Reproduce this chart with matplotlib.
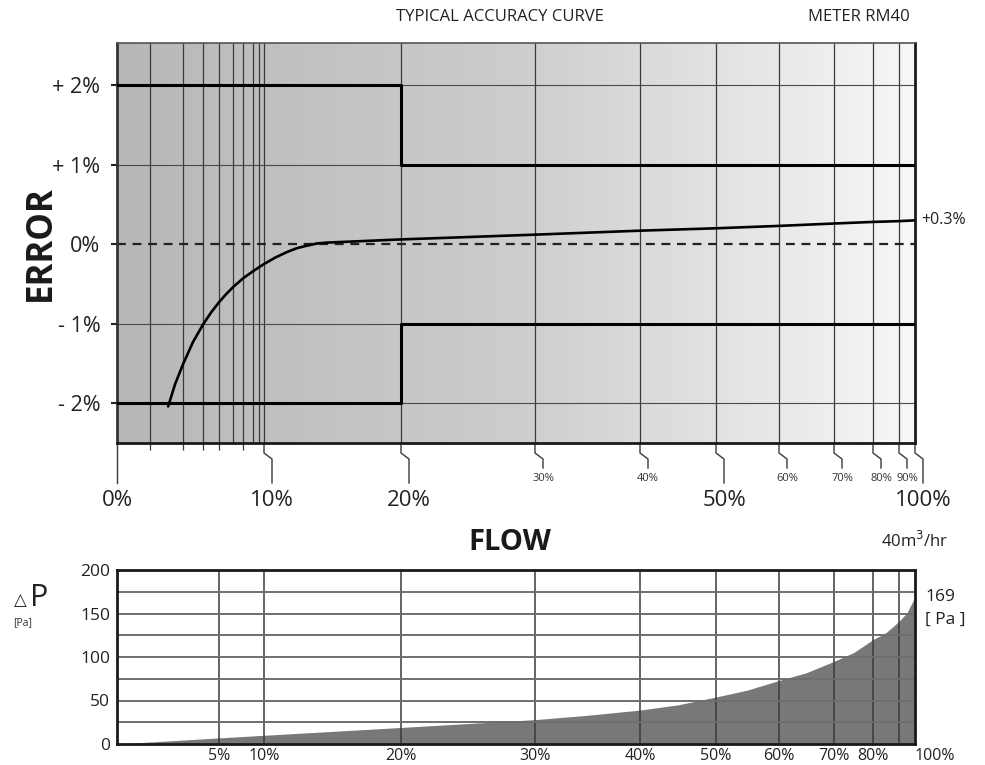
import numpy as np
import matplotlib
matplotlib.use("Agg")
import matplotlib.pyplot as plt
from matplotlib.colors import LinearSegmentedColormap

plt.rcParams["font.family"] = ["Open Sans", "DejaVu Sans"]

# flow axis of the meter sheet is neither linear nor log: piecewise calibration
SCALE_FLOW = [0, 2, 3, 4, 5, 6, 7, 8, 9, 10, 20, 30, 40, 50, 60, 70, 80, 90, 100]
SCALE_POS = [0, 33, 66, 86, 102, 116, 126, 136, 142, 147, 284, 418, 523, 599, 662, 717, 756, 782, 798]

# accuracy curve
ERR_FLOW = [2.55, 2.76, 3.0, 3.5, 4.0, 4.5, 5.0, 5.5, 6.0, 7.0, 8.0, 9.0, 10.0,
            10.8, 11.66, 12.4, 13.1, 13.9, 14.6,
            20, 30, 40, 50, 60, 70, 80, 90, 100]
ERR_VAL = [-2.04, -1.76, -1.51, -1.23, -1.01, -0.86, -0.73, -0.63, -0.54, -0.43,
           -0.34, -0.29, -0.25, -0.17, -0.10, -0.05, -0.02, 0.01, 0.02,
           0.06, 0.12, 0.17, 0.2, 0.23, 0.26, 0.28, 0.29, 0.3]

# tolerance band
LIMIT_FLOW = [0, 20, 20, 100]
LIMIT_UP = [2, 2, 1, 1]
LIMIT_LO = [-2, -2, -1, -1]

ERR_TICKS = [-2, -1, 0, 1, 2]
ERR_LABELS = ["- 2%", "- 1%", "0%", "+ 1%", "+ 2%"]

TOP_GRID = [2, 3, 4, 5, 6, 7, 8, 9, 10, 20, 30, 40, 50, 60, 70, 80, 90]
TOP_MINOR = [2, 3, 4, 5, 7]
TOP_BIG = [10, 20, 50, 100]
TOP_SMALL = [30, 40, 60, 70, 80, 90]

# pressure drop
DP_FLOW = [0, 5, 10, 20, 30, 35, 40, 45, 50, 55, 60, 65, 70, 75, 80, 85, 90, 95, 100]
DP_VAL = [0, 7, 10, 19, 28, 33, 39, 45, 54, 62, 73, 82, 95, 105, 120, 128, 141, 151, 169]
DP_TICKS = [0, 50, 100, 150, 200]
DP_GRID_Y = [25, 50, 75, 100, 125, 150, 175]
BOT_GRID = [5, 10, 20, 30, 40, 50, 60, 70, 80, 90]
BOT_LABELS = [5, 10, 20, 30, 40, 50, 60, 70, 80]

W, H = 985, 765


def fwd(x):
    return np.interp(x, SCALE_FLOW, SCALE_POS)


def inv(p):
    return np.interp(p, SCALE_POS, SCALE_FLOW)


def fx(px):
    return px / W


def fy(py):
    return 1 - py / H


fig = plt.figure(figsize=(W / 100, H / 100), dpi=100)
ax = fig.add_axes([fx(117), fy(443), 798 / W, 400 / H])
ax2 = fig.add_axes([fx(117), fy(744), 798 / W, 174 / H])

# ---- top: accuracy ----
grad = np.linspace(0, 1, 256).reshape(1, -1)
cmap = LinearSegmentedColormap.from_list("bg", ["#b7b7b7", "#cdcdcd", "#f7f7f7"])
ax.imshow(grad, extent=[0, 1, 0, 1], transform=ax.transAxes, aspect="auto",
          cmap=cmap, zorder=0)

ax.set_xscale("function", functions=(fwd, inv))
ax.set_xlim(0, 100)
ax.set_ylim(-2.5, 2.53)

for x in TOP_GRID:
    ax.axvline(x, color="#3a3a3a", lw=0.9, zorder=1)
for y in [-2, -1, 1, 2]:
    ax.axhline(y, color="#4a4a4a", lw=0.8, zorder=1)
ax.axhline(0, color="#222222", lw=1.6, ls=(0, (4, 3)), zorder=2)

ax.plot(LIMIT_FLOW, LIMIT_UP, color="black", lw=2.2, zorder=3)
ax.plot(LIMIT_FLOW, LIMIT_LO, color="black", lw=2.2, zorder=3)
ax.plot(ERR_FLOW, ERR_VAL, color="black", lw=1.9, zorder=4,
        solid_capstyle="round", solid_joinstyle="round")

ax.set_yticks(ERR_TICKS, labels=ERR_LABELS)
ax.tick_params(axis="y", direction="out", length=4, width=1.5, pad=8,
               labelsize=15.5, colors="#222222")
ax.set_xticks(TOP_MINOR, labels=[])
ax.tick_params(axis="x", direction="out", length=5, width=0.9, color="#3a3a3a")

for side in ["left", "bottom", "right"]:
    ax.spines[side].set_linewidth(2)
    ax.spines[side].set_color("#1a1a1a")
ax.spines["top"].set_linewidth(1.2)
ax.spines["top"].set_color("#555555")
ax.spines["left"].set_color("#333333")

# leader lines below the flow axis
fig.canvas.draw()
bb = ax.get_window_extent()


def xfrac(x):
    return ax.transAxes.inverted().transform(ax.transData.transform((x, 0)))[0]


ax.plot([0, 0], [0, -40 / bb.height], color="#3a3a3a", lw=1,
        transform=ax.transAxes, clip_on=False)
ax.text(0, -57 / bb.height, "0%", transform=ax.transAxes, ha="center", va="center",
        fontsize=16, color="#222222")

for x in TOP_BIG + TOP_SMALL:
    xa = xfrac(x)
    end = 40 if x in TOP_BIG else 25
    dx = 8 / bb.width
    ax.plot([xa, xa, xa + dx, xa + dx],
            [0, -10 / bb.height, -16 / bb.height, -end / bb.height],
            color="#3a3a3a", lw=1, transform=ax.transAxes, clip_on=False)
    if x in TOP_BIG:
        ax.text(xa + dx, -57 / bb.height, f"{x}%", transform=ax.transAxes,
                ha="center", va="center", fontsize=16, color="#222222")
    else:
        ax.text(xa + dx, -35 / bb.height, f"{x}%", transform=ax.transAxes,
                ha="center", va="center", fontsize=8, color="#333333")

ax.text(1.008, 0.3, "+0.3%", transform=ax.get_yaxis_transform(), ha="left",
        va="center", fontsize=11.5, color="#222222")

# ---- bottom: pressure drop ----
ax2.set_xscale("function", functions=(fwd, inv))
ax2.set_xlim(0, 100)
ax2.set_ylim(0, 200)
ax2.fill_between(DP_FLOW, 0, DP_VAL, color="#787878", lw=0, zorder=1)
for x in BOT_GRID:
    ax2.axvline(x, color="#3a3a3a", lw=1.1, zorder=2)
for y in DP_GRID_Y:
    ax2.axhline(y, color="#6e6e6e", lw=1.4, zorder=2)

ax2.set_yticks(DP_TICKS)
ax2.tick_params(axis="y", length=0, pad=5, labelsize=12.5, colors="#222222")
ax2.set_xticks(BOT_LABELS, labels=[f"{x}%" for x in BOT_LABELS])
ax2.tick_params(axis="x", length=0, pad=3, labelsize=11.5, colors="#222222")
ax2.text(1.0, -4 / 174, "100%", transform=ax2.transAxes, ha="left", va="top",
         fontsize=11.5, color="#222222")
for side in ax2.spines:
    ax2.spines[side].set_linewidth(2)
    ax2.spines[side].set_color("#1a1a1a")

# ---- free text ----
fig.text(fx(500), fy(17), "TYPICAL ACCURACY CURVE", ha="center", va="center",
         fontsize=12, color="#222222")
fig.text(fx(859), fy(17), "METER RM40", ha="center", va="center",
         fontsize=12, color="#222222")
fig.text(fx(41), fy(243), "ERROR", ha="center", va="center", rotation=90,
         fontsize=25, fontweight="bold", color="#1a1a1a")
fig.text(fx(510), fy(543), "FLOW", ha="center", va="center",
         fontsize=21, fontweight="bold", color="#1a1a1a")
fig.text(fx(948), fy(541), "40m$^3$/hr", ha="right", va="center",
         fontsize=12, color="#222222")
fig.text(fx(27), fy(605), "\u25b3", ha="right", va="baseline",
         fontsize=12, color="#222222")
fig.text(fx(30), fy(606), "P", ha="left", va="baseline",
         fontsize=22, color="#222222")
fig.text(fx(13), fy(623), "[Pa]", ha="left", va="center",
         fontsize=7.5, color="#333333")
fig.text(fx(925), fy(597), "169", ha="left", va="center",
         fontsize=12.5, color="#222222")
fig.text(fx(925), fy(620), "[ Pa ]", ha="left", va="center",
         fontsize=12.5, color="#222222")

fig.savefig("out.png", dpi=100)
